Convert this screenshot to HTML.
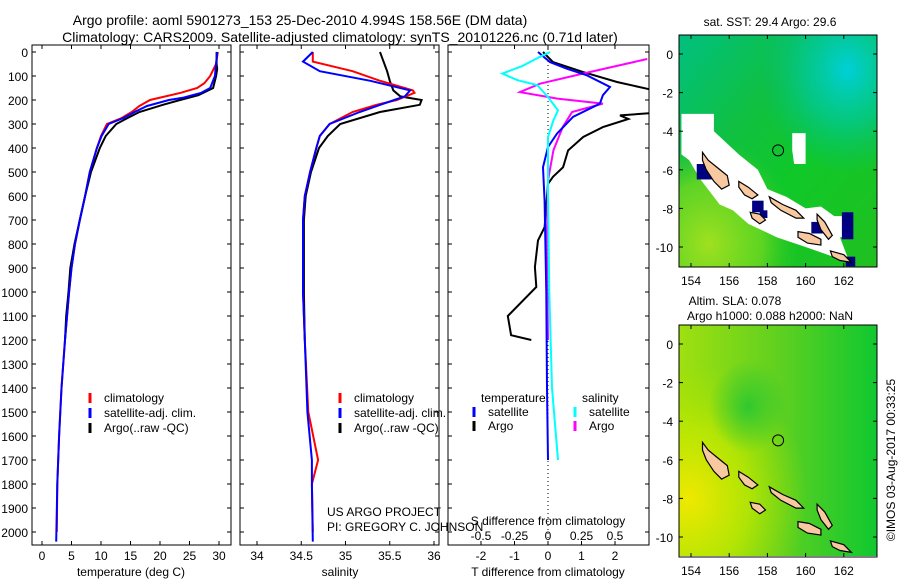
<!DOCTYPE html>
<html><head><meta charset="utf-8"><style>
html,body{margin:0;padding:0;background:#fff;}
svg{display:block;font-family:"Liberation Sans",sans-serif;}
text{fill:#000;}
</style></head><body>
<svg id="fig" width="900" height="580" viewBox="0 0 900 580">
<defs>
<clipPath id="c1"><rect x="32" y="45" width="199" height="500"/></clipPath>
<clipPath id="c2"><rect x="240" y="45" width="199" height="500"/></clipPath>
<clipPath id="c3"><rect x="448" y="45" width="201" height="500"/></clipPath>
<clipPath id="m1c"><rect x="679" y="35" width="198" height="232"/></clipPath>
<clipPath id="m2c"><rect x="679" y="325" width="198" height="231"/></clipPath>
<linearGradient id="g1a" x1="0" y1="0" x2="1" y2="1"><stop offset="0" stop-color="#00c080"/><stop offset="0.35" stop-color="#10c040"/><stop offset="0.6" stop-color="#10c828"/><stop offset="1" stop-color="#20c020"/></linearGradient>
<radialGradient id="g1b" cx="0.85" cy="0.15" r="0.45"><stop offset="0" stop-color="#00d0d8"/><stop offset="0.5" stop-color="#00c8a0" stop-opacity="0.7"/><stop offset="1" stop-color="#00c080" stop-opacity="0"/></radialGradient>
<radialGradient id="g1c" cx="0.15" cy="0.9" r="0.45"><stop offset="0" stop-color="#a0e020"/><stop offset="0.6" stop-color="#70d820" stop-opacity="0.8"/><stop offset="1" stop-color="#40c820" stop-opacity="0"/></radialGradient>
<linearGradient id="g2a" x1="0" y1="0" x2="1" y2="0"><stop offset="0" stop-color="#a0e010"/><stop offset="0.5" stop-color="#60d020"/><stop offset="1" stop-color="#10c830"/></linearGradient>
<radialGradient id="g2b" cx="0.05" cy="0.75" r="0.6"><stop offset="0" stop-color="#f0e800"/><stop offset="0.5" stop-color="#c0e800" stop-opacity="0.8"/><stop offset="1" stop-color="#a0e000" stop-opacity="0"/></radialGradient>
<radialGradient id="g2c" cx="0.35" cy="0.35" r="0.2"><stop offset="0" stop-color="#30c830"/><stop offset="1" stop-color="#30c830" stop-opacity="0"/></radialGradient>
</defs>
<text x="300" y="25" font-size="14" text-anchor="middle">Argo profile: aoml 5901273_153 25-Dec-2010 4.994S 158.56E (DM data)</text>
<text x="340" y="42" font-size="14" text-anchor="middle">Climatology: CARS2009. Satellite-adjusted climatology: synTS_20101226.nc (0.71d later)</text>
<g id="panels"></g>
<g id="maps"></g>
<text transform="translate(895,460) rotate(-90)" font-size="12" text-anchor="middle">©IMOS 03-Aug-2017 00:33:25</text>
</svg>
<script>
// ---- data ----
const tClimDepth=[0,50,100,130,150,170,200,225,250,275,300,350,400,500,600,700,800,900,1000,1200,1400,1600,1800,2000];
const tClim=[29.8,29.5,28.5,27.5,26.3,23.5,18.3,16.5,15.2,13.5,11.0,10.0,9.3,8.1,7.3,6.4,5.6,5.0,4.6,3.9,3.3,2.9,2.6,2.5];
const tSatDepth=[0,100,150,170,190,200,225,250,275,300,350,400,500,600,700,800,900,1000,1200,1400,1600,1800,2040];
const tSat=[29.7,29.3,28.5,27.0,24,21.5,17.8,15.7,13.8,11.3,10.1,9.3,8.1,7.3,6.4,5.6,5.0,4.6,3.9,3.3,2.9,2.6,2.4];
const tArgoDepth=[0,50,70,100,150,180,200,220,250,275,300,350,400,500,600,700,800,900,1000,1100,1200];
const tArgo=[29.6,29.6,29.7,29.5,29.0,26.5,23.4,20.5,16.5,14.5,12.6,10.8,9.8,8.3,7.3,6.4,5.5,4.8,4.5,4.1,3.9];
const sClimDepth=[0,40,80,120,160,170,200,220,250,300,350,400,500,600,700,900,1000,1200,1500,1700,1800,2000];
const sClim=[34.63,34.63,35.08,35.39,35.76,35.78,35.58,35.35,35.08,34.82,34.71,34.67,34.6,34.54,34.52,34.52,34.52,34.54,34.58,34.69,34.62,34.63];
const sSatDepth=[0,40,80,120,160,185,200,250,300,350,400,500,600,700,900,1000,1200,1500,1700,1800,2040];
const sSat=[34.63,34.52,34.71,35.28,35.73,35.67,35.55,35.16,34.82,34.71,34.67,34.6,34.54,34.52,34.52,34.52,34.54,34.57,34.62,34.62,34.63];
const sArgoDepth=[0,80,120,160,185,200,220,250,300,350,400,500,600,700,900,1000,1200];
const sArgo=[35.39,35.47,35.5,35.54,35.62,35.86,35.84,35.39,34.94,34.8,34.7,34.61,34.55,34.53,34.53,34.53,34.54];
const dsSatDepth=[0,20,58,90,117,138,188,243,285,354,600,1000,1400,1700];
const dsSat=[0.015,-0.06,-0.19,-0.34,-0.23,-0.08,0,0.075,0.04,0,0,0.01,0.03,0.075];
const dsArgoDepth=[29,90,132,167,194,215,250,313,410,535,800,1200];
const dsArgo=[0.74,0.26,-0.06,-0.21,0.07,0.41,0.18,0.11,0.04,0,-0.01,0];
const dtSatDepth=[0,42,70,97,146,180,215,270,340,396,480,620,1000,1400,1700];
const dtSat=[-0.3,0.06,0.57,1.16,1.85,1.64,1.55,0.75,0.27,0,-0.15,-0.1,-0.05,-0.03,0];
const dtArgoDepth=[0,42,83,125,153,170,250,264,279,313,354,410,480,520,549,730,785,896,979,1100,1180,1200];
const dtArgo=[-0.15,0.15,1.04,2.06,2.95,3.5,3.5,2.15,2.4,1.64,1.05,0.6,0.45,0.15,0,-0.1,-0.3,-0.39,-0.35,-1.2,-1.1,-0.5];
const depthTicks=[0,100,200,300,400,500,600,700,800,900,1000,1100,1200,1300,1400,1500,1600,1700,1800,1900,2000];
const tTicks=[0,5,10,15,20,25,30];
const sTicks=[34,34.5,35,35.5,36];
const sTickLabels=["34","34.5","35","35.5","36"];
const dTTicks=[-2,-1,0,1,2];
const dSTicks=[-0.5,-0.25,0,0.25,0.5];
const dSTickLabels=["-0.5","-0.25","0","0.25","0.5"];
const lonTicks=[154,156,158,160,162];
const latTicks=[0,-2,-4,-6,-8,-10];
const argoLon=158.56, argoLat=-4.994;

// ---- helpers ----
const NS="http://www.w3.org/2000/svg";
function mk(tag,attrs,parent){const e=document.createElementNS(NS,tag);for(const k in attrs)e.setAttribute(k,attrs[k]);(parent||document.getElementById('fig')).appendChild(e);return e;}
const yD=d=>52+d*0.24;
const xT=t=>42+t*5.9;
const xS=s=>257+(s-34)*88.5;
const xDT=v=>548+v*33.5;
const xDS=v=>548+v*134;
const G=document.getElementById('panels');
function line(xs,ds,fx,color,clip,w){
  const pts=xs.map((v,i)=>fx(v).toFixed(1)+','+yD(ds[i]).toFixed(1)).join(' ');
  const p=mk('polyline',{points:pts,fill:'none',stroke:color,'stroke-width':w||2,'clip-path':'url(#'+clip+')'},G);
  return p;
}
function frame(x,w,name){
  const r=mk('rect',{x:x,y:45,width:w,height:500,fill:'none',stroke:'#000','stroke-width':1},G);
  
  
  depthTicks.forEach(d=>{mk('line',{x1:x,x2:x+4,y1:yD(d),y2:yD(d),stroke:'#000'},G);mk('line',{x1:x+w-4,x2:x+w,y1:yD(d),y2:yD(d),stroke:'#000'},G);});
}
function txt(x,y,s,anchor,size,name){const t=mk('text',{x:x,y:y,'font-size':size||12,'text-anchor':anchor||'start'},G);t.textContent=s;
  
  
  return t;}
// panel 1
frame(32,199,'temperature-panel');
depthTicks.forEach(d=>{txt(28,yD(d)+5,String(d),'end',12,'depth-tick-label');});
tTicks.forEach(t=>{mk('line',{x1:xT(t),x2:xT(t),y1:545,y2:541,stroke:'#000'},G);mk('line',{x1:xT(t),x2:xT(t),y1:45,y2:49,stroke:'#000'},G);txt(xT(t),560,String(t),'middle',12,'temperature-tick-label');});
txt(131,576,'temperature (deg C)','middle',12,'temperature-axis-title');
let p;
p=line(tClim,tClimDepth,xT,'#f00','c1');


p=line(tArgo,tArgoDepth,xT,'#000','c1');


p=line(tSat,tSatDepth,xT,'#00f','c1');


// panel 2
frame(240,199,'salinity-panel');
sTicks.forEach((s,i)=>{mk('line',{x1:xS(s),x2:xS(s),y1:545,y2:541,stroke:'#000'},G);mk('line',{x1:xS(s),x2:xS(s),y1:45,y2:49,stroke:'#000'},G);txt(xS(s),560,sTickLabels[i],'middle',12,'salinity-tick-label');});
txt(340,576,'salinity','middle',12,'salinity-axis-title');
p=line(sArgo,sArgoDepth,xS,'#000','c2');


p=line(sClim,sClimDepth,xS,'#f00','c2');


p=line(sSat,sSatDepth,xS,'#00f','c2');


// panel 3
frame(448,201,'difference-panel');
mk('line',{x1:548,x2:548,y1:45,y2:545,stroke:'#000','stroke-dasharray':'1,3'},G);
dTTicks.forEach(t=>{mk('line',{x1:xDT(t),x2:xDT(t),y1:545,y2:541,stroke:'#000'},G);mk('line',{x1:xDT(t),x2:xDT(t),y1:45,y2:49,stroke:'#000'},G);txt(xDT(t),560,String(t),'middle',12,'t-diff-tick-label');});
dSTicks.forEach((s,i)=>{txt(xDS(s),540,dSTickLabels[i],'middle',12,'s-diff-tick-label');});
txt(548,525,'S difference from climatology','middle',12,'s-diff-axis-title');
txt(548,576,'T difference from climatology','middle',12,'t-diff-axis-title');
p=line(dtArgo,dtArgoDepth,xDT,'#000','c3');


p=line(dsArgo,dsArgoDepth,xDS,'#f0f','c3');


p=line(dtSat,dtSatDepth,xDT,'#00f','c3');


p=line(dsSat,dsSatDepth,xDS,'#0ff','c3');


// legends
function leg(x,y,color,label,name){mk('line',{x1:x,x2:x,y1:y-9,y2:y+1,stroke:color,'stroke-width':3},G);txt(x+14,y,label,'start',12,name);}
leg(90,402,'#f00','climatology','legend-climatology');
leg(90,417,'#00f','satellite-adj. clim.','legend-satellite');
leg(90,432,'#000','Argo(..raw -QC)','legend-argo');
leg(340,402,'#f00','climatology','legend-climatology-2');
leg(340,417,'#00f','satellite-adj. clim.','legend-satellite-2');
leg(340,432,'#000','Argo(..raw -QC)','legend-argo-2');
txt(481,402,'temperature','start',12,'legend-temperature-header');
txt(582,402,'salinity','start',12,'legend-salinity-header');
leg(474,416,'#00f','satellite','legend-t-satellite');
leg(474,430,'#000','Argo','legend-t-argo');
leg(575,416,'#0ff','satellite','legend-s-satellite');
leg(575,430,'#f0f','Argo','legend-s-argo');
txt(327,516,'US ARGO PROJECT','start',12,'project-label');
txt(327,531,'PI: GREGORY C. JOHNSON','start',12,'pi-label');

// ---- maps ----
const M=document.getElementById('maps');
const islands=[
 [[154.6,-5.1],[154.9,-5.5],[155.4,-5.9],[155.9,-6.3],[156.0,-6.8],[155.6,-7.0],[155.2,-6.6],[154.8,-6.0],[154.6,-5.5]],
 [[156.5,-6.6],[157.0,-6.9],[157.5,-7.3],[157.2,-7.5],[156.8,-7.3],[156.5,-6.9]],
 [[158.1,-7.4],[158.8,-7.8],[159.5,-8.1],[159.9,-8.5],[159.5,-8.5],[158.7,-8.1],[158.2,-7.7]],
 [[157.1,-8.2],[157.6,-8.3],[157.9,-8.6],[157.6,-8.8],[157.2,-8.5]],
 [[159.6,-9.2],[160.2,-9.3],[160.8,-9.6],[160.8,-9.9],[160.1,-9.8],[159.6,-9.5]],
 [[160.6,-8.3],[161.0,-8.7],[161.4,-9.4],[161.2,-9.6],[160.8,-9.1],[160.6,-8.6]],
 [[161.3,-10.2],[162.0,-10.4],[162.4,-10.8],[161.8,-10.7],[161.4,-10.5]]
];
const whiteArea=[[153.5,-3.1],[155.2,-3.1],[155.2,-4],[156.5,-5.2],[157.5,-6],[158,-7],[159,-7.4],[160,-8],[160.8,-7.9],[161.5,-8.4],[162.3,-8.4],[162.5,-9.4],[161.8,-9.5],[162.3,-10.8],[160,-10],[158.5,-9.5],[157,-8.8],[156.2,-8.1],[155.5,-7.8],[154.5,-6.5],[153.9,-5.5],[153.5,-5.2]];
const whiteBlob=[[159.3,-4.1],[160,-4.1],[160,-5.7],[159.4,-5.7],[159.3,-5]];
const navyCells=[[154.3,-5.7,0.8,0.8],[157.2,-7.6,0.6,0.6],[160.3,-8.7,0.6,0.6],[161.9,-8.2,0.6,1.4],[157.6,-8.1,0.4,0.4],[162.1,-10.5,0.5,0.5]];
function drawMap(y0,latY0,clip,bg,name){
  const px=l=>691+(l-154)*19.1, py=l=>latY0-l*19.3;
  const g=mk('g',{'clip-path':'url(#'+clip+')'},M);
  bg.forEach(f=>mk('rect',{x:679,y:y0,width:198,height:232,fill:'url(#'+f+')'},g));
  if(name==='sst-map'){
    mk('polygon',{points:whiteArea.map(p=>px(p[0])+','+py(p[1])).join(' '),fill:'#fff'},g);
    mk('polygon',{points:whiteBlob.map(p=>px(p[0])+','+py(p[1])).join(' '),fill:'#fff'},g);
    navyCells.forEach(c=>mk('rect',{x:px(c[0]),y:py(c[1]),width:c[2]*19.1,height:c[3]*19.3,fill:'#000080'},g));
  }
  islands.forEach(is=>{const pg=mk('polygon',{points:is.map(p=>px(p[0]).toFixed(1)+','+py(p[1]).toFixed(1)).join(' '),fill:'#f8c8a0',stroke:'#000','stroke-width':1.2},g);
    
    });
  const c=mk('circle',{cx:px(argoLon),cy:py(argoLat),r:5.5,fill:'none',stroke:'#000'},M);
  
  
  const fr=mk('rect',{x:679,y:y0,width:198,height:232,fill:'none',stroke:'#000'},M);
  
  
  lonTicks.forEach(l=>{mk('line',{x1:px(l),x2:px(l),y1:y0,y2:y0+4,stroke:'#000'},M);mk('line',{x1:px(l),x2:px(l),y1:y0+232,y2:y0+228,stroke:'#000'},M);
    const t=mk('text',{x:px(l),y:y0+250,'font-size':12,'text-anchor':'middle'},M);t.textContent=String(l);
    
    });
  latTicks.forEach(l=>{mk('line',{x1:679,x2:683,y1:py(l),y2:py(l),stroke:'#000'},M);mk('line',{x1:873,x2:877,y1:py(l),y2:py(l),stroke:'#000'},M);
    const t=mk('text',{x:673,y:py(l)+5,'font-size':12,'text-anchor':'end'},M);t.textContent=String(l);
    
    });
}
drawMap(35,54,'m1c',['g1a','g1b','g1c'],'sst-map');
drawMap(325,344,'m2c',['g2a','g2b','g2c'],'sla-map');
function mt(x,y,s,name){const t=mk('text',{x:x,y:y,'font-size':12,'text-anchor':'middle'},M);t.textContent=s;
  
  }
mt(770,26,'sat. SST: 29.4 Argo: 29.6','sst-map-title');
mt(735,305,'Altim. SLA: 0.078','sla-map-title');
mt(770,320,'Argo h1000: 0.088 h2000: NaN','argo-height-title');
</script>
</body></html>
